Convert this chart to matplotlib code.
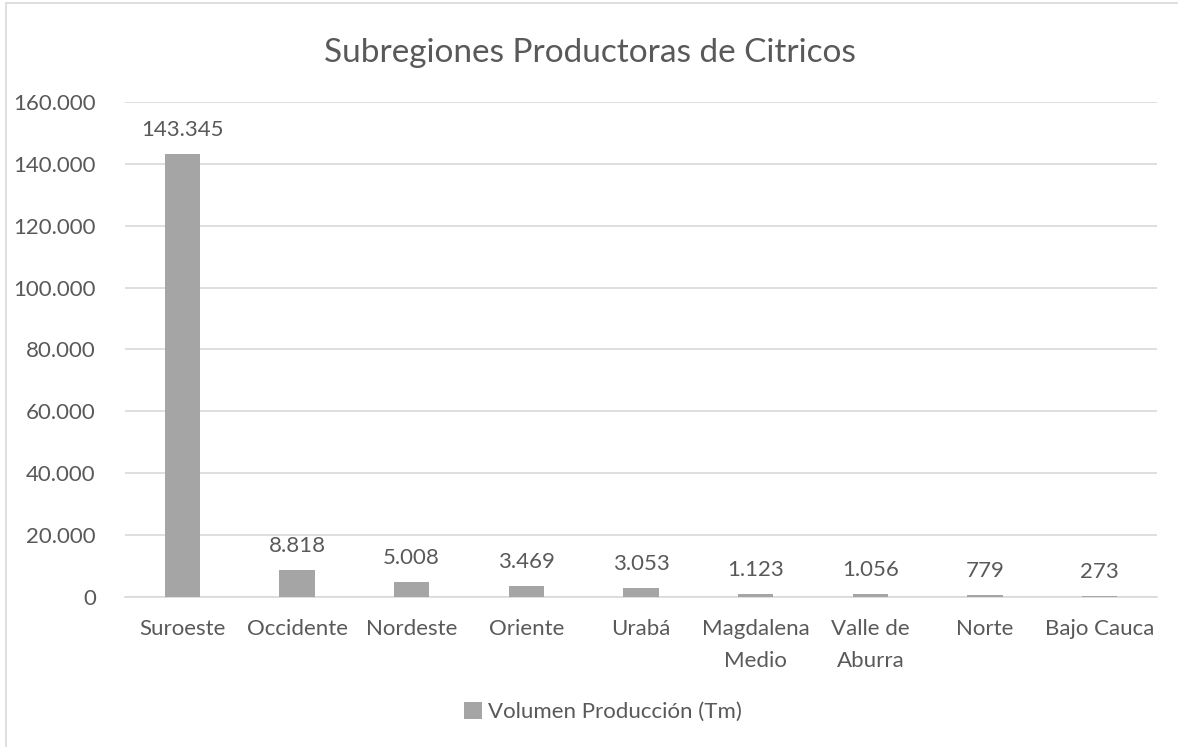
import matplotlib.pyplot as plt
from matplotlib.patches import Rectangle
from matplotlib.ticker import FuncFormatter

regiones = ["Suroeste", "Occidente", "Nordeste", "Oriente", "Urabá",
            "Magdalena\nMedio", "Valle de\nAburra", "Norte", "Bajo Cauca"]
volumen = [143345, 8818, 5008, 3469, 3053, 1123, 1056, 779, 273]
yticks = [0, 20000, 40000, 60000, 80000, 100000, 120000, 140000, 160000]


def miles(v):
    return f"{int(v):,}".replace(",", ".")


plt.rcParams['font.family'] = ['Lato', 'DejaVu Sans']
txt = '#595959'
grid = '#d9d9d9'
bar_c = '#a5a5a5'
fs = 16

W, H = 1178, 747
fig = plt.figure(figsize=(W / 100, H / 100), dpi=100)

# marco del grafico (se corta a la derecha y abajo)
fig.patches.append(Rectangle((6 / W, -0.05), 1, 1.05 - 3 / H, transform=fig.transFigure,
                             fill=False, edgecolor=grid, linewidth=1.2))

ax = fig.add_axes([125 / W, (H - 597) / H, 1032 / W, (597 - 102) / H])
x = range(len(regiones))
bars = ax.bar(x, volumen, width=0.31, color=bar_c, label="Volumen Producción (Tm)", zorder=3)

for xi, v in zip(x, volumen):
    ax.annotate(miles(v), (xi, v), xytext=(0, 10), textcoords='offset points',
                ha='center', va='bottom', fontsize=fs, color=txt)

ax.set_xlim(-0.5, len(regiones) - 0.5)
ax.set_ylim(0, 160000)
ax.set_yticks(yticks)
ax.yaxis.set_major_formatter(FuncFormatter(lambda v, p: miles(v)))
ax.set_xticks(list(x))
ax.set_xticklabels(regiones, linespacing=1.75)
ax.tick_params(axis='both', length=0, labelsize=fs, labelcolor=txt)
ax.tick_params(axis='y', pad=21)
ax.tick_params(axis='x', pad=16)
ax.grid(axis='y', color=grid, linewidth=1.2, zorder=0)
for s in ['top', 'right', 'left']:
    ax.spines[s].set_visible(False)
ax.spines['bottom'].set_color(grid)
ax.spines['bottom'].set_linewidth(1.2)

fig.text(590 / W, 1 - 53 / H, "Subregiones Productoras de Citricos",
         ha='center', va='center', fontsize=24, color=txt)

fig.legend(handles=[bars], loc='center', bbox_to_anchor=(603 / W, 1 - 712 / H),
           frameon=False, fontsize=fs, labelcolor=txt, handlelength=0.8,
           handleheight=0.8, handletextpad=0.3)

fig.savefig("out.png", dpi=100)
